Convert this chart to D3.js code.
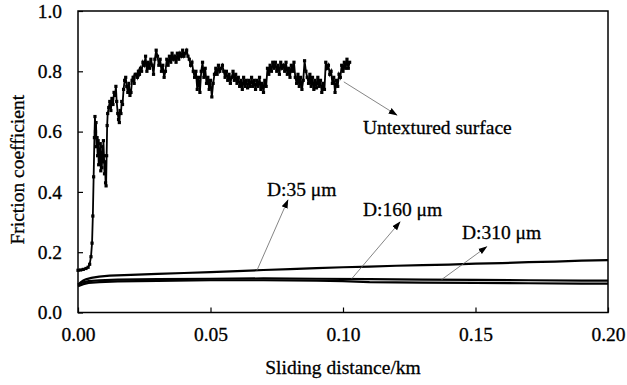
<!DOCTYPE html>
<html>
<head>
<meta charset="utf-8">
<script src="https://cdn.jsdelivr.net/npm/d3@7"></script>
<style>
  body { margin: 0; background: #fff; }
  svg { display: block; }
  svg text { font-family: "Liberation Serif", "Times New Roman", serif; fill: #000; stroke: #000; stroke-width: 0.3px; }
</style>
</head>
<body>
<svg id="chart" width="627" height="385"></svg>
<script>
// tick labels
var xTicks = [0, 0.05, 0.10, 0.15, 0.20];
var yTicks = [0, 0.2, 0.4, 0.6, 0.8, 1.0];

// friction coefficient vs sliding distance (km)
var untextured = [
  [0, .140], [.001, .141], [.002, .143], [.003, .146], [.0038, .150], [.0044, .160], [.0049, .185],
  [.0053, .23], [.0056, .32], [.0059, .45], [.0062, .58], [.0064, .65],
  [.0066, .60], [.0068, .63], [.007, .55], [.0072, .58], [.0074, .52], [.0076, .57], [.0078, .49],
  [.008, .54], [.0082, .50], [.0084, .56], [.0086, .47], [.0088, .53], [.009, .48], [.0092, .55],
  [.0094, .50], [.0096, .57], [.0098, .52], [.010, .46], [.0102, .50], [.0104, .43], [.0106, .42],
  [.0108, .52], [.011, .62], [.0112, .66],
  [.0116, .68], [.012, .70], [.0124, .67], [.0128, .71], [.0132, .69], [.0136, .73], [.014, .72],
  [.0143, .75], [.0146, .70], [.015, .66], [.0153, .64], [.0156, .63], [.0159, .67], [.0162, .66],
  [.0165, .70], [.0168, .69], [.0172, .74], [.0176, .77], [.018, .78], [.0184, .75], [.0188, .73],
  [.0192, .76], [.0196, .72], [.020, .73], [.0204, .77], [.0208, .78], [.0212, .76], [.0216, .79],
  [.022, .79], [.0224, .78], [.0228, .80], [.0232, .79], [.0236, .81], [.024, .80], [.0245, .83],
  [.025, .82], [.0255, .85], [.026, .80], [.0265, .83], [.027, .81], [.0275, .84], [.028, .82],
  [.0285, .79], [.029, .84], [.0295, .87], [.030, .85], [.0305, .82], [.031, .84], [.0315, .80],
  [.032, .82], [.0325, .78], [.033, .80], [.0335, .84], [.034, .82], [.0345, .85], [.035, .83],
  [.0355, .86], [.036, .84], [.0365, .85], [.037, .83], [.0375, .86], [.038, .84], [.0385, .86],
  [.039, .85], [.0395, .87], [.040, .85], [.0405, .86], [.041, .87], [.0415, .85], [.042, .84],
  [.0425, .82], [.043, .83], [.0435, .80], [.044, .78], [.0445, .80], [.045, .74], [.0455, .78],
  [.046, .73], [.0465, .80], [.047, .83], [.0475, .78], [.048, .81], [.0485, .76], [.049, .78],
  [.0495, .74], [.050, .77], [.0505, .715], [.051, .76], [.0515, .79], [.052, .81], [.0525, .79],
  [.053, .82], [.0535, .80], [.054, .81], [.0545, .82], [.055, .80], [.0555, .78], [.056, .80],
  [.0565, .77], [.057, .79], [.0575, .76], [.058, .78], [.0585, .80], [.059, .77], [.0595, .79],
  [.060, .76], [.0605, .78], [.061, .75], [.0615, .77], [.062, .74], [.0625, .78], [.063, .75],
  [.0635, .77], [.064, .745], [.0645, .77], [.065, .75], [.0655, .78], [.066, .75], [.0665, .77],
  [.067, .74], [.0675, .77], [.068, .75], [.0685, .78], [.069, .74], [.0695, .76], [.070, .73],
  [.0705, .77], [.071, .75], [.0715, .81], [.072, .79], [.0725, .82], [.073, .80], [.0735, .83],
  [.074, .81], [.0745, .83], [.075, .80], [.0755, .82], [.076, .79], [.0765, .83], [.077, .81],
  [.0775, .82], [.078, .80], [.0785, .83], [.079, .79], [.0795, .81], [.080, .78], [.0805, .82],
  [.081, .80], [.0815, .83], [.082, .78], [.0825, .76], [.083, .79], [.0835, .75], [.084, .78],
  [.0845, .74], [.085, .77], [.0855, .835], [.086, .80], [.0865, .78], [.087, .76], [.0875, .79],
  [.088, .75], [.0885, .78], [.089, .74], [.0895, .77], [.090, .745], [.0905, .78], [.091, .75],
  [.0915, .77], [.092, .73], [.0925, .76], [.093, .74], [.0935, .83], [.094, .81], [.0945, .82],
  [.095, .79], [.0955, .80], [.096, .76], [.0965, .78], [.097, .73], [.0975, .77], [.098, .75],
  [.0985, .79], [.099, .78], [.0995, .82], [.100, .80], [.1005, .83], [.101, .81], [.1015, .84],
  [.102, .81], [.1025, .83]
];

var d35 = [
  [0, .092], [.001, .100], [.002, .106], [.003, .110], [.005, .115], [.008, .119], [.012, .122],
  [.02, .125], [.03, .128], [.04, .131], [.05, .134], [.06, .137], [.07, .141], [.08, .144],
  [.09, .147], [.10, .150], [.11, .152], [.12, .155], [.13, .157], [.14, .159], [.15, .162],
  [.16, .164], [.17, .167], [.18, .169], [.19, .172], [.20, .174]
];

var d160 = [
  [0, .093], [.002, .100], [.004, .104], [.008, .107], [.015, .109], [.03, .111], [.05, .112],
  [.07, .113], [.09, .112], [.11, .111], [.13, .109], [.15, .108], [.17, .107], [.19, .106], [.20, .106]
];

var d310 = [
  [0, .087], [.002, .094], [.004, .098], [.008, .101], [.015, .103], [.03, .105], [.05, .107],
  [.07, .107], [.09, .106], [.10, .104], [.11, .101], [.13, .099], [.15, .098], [.17, .097],
  [.19, .096], [.20, .096]
];

// annotations: text anchor and arrow (from, to) in data units
var notes = [
  { label: "Untextured surface", at: [.1075, .592], from: [.1003, .765], to: [.1203, .655] },
  { label: "D:35 \u03bcm", at: [.0713, .386], from: [.0675, .139], to: [.0792, .373] },
  { label: "D:160 \u03bcm", at: [.1075, .320], from: [.1033, .112], to: [.1215, .300] },
  { label: "D:310 \u03bcm", at: [.1449, .244], from: [.1372, .109], to: [.1542, .218] }
];

var svg = d3.select("#chart");
var margin = { top: 11, right: 19, bottom: 72.5, left: 78 };
var width = 627 - margin.left - margin.right;
var height = 385 - margin.top - margin.bottom;
var fontSize = "19.5px";
var serif = "'Liberation Serif', 'Times New Roman', serif";

var g = svg.append("g")
  .attr("transform", "translate(" + margin.left + "," + margin.top + ")");

var x = d3.scaleLinear().domain([0, 0.2]).range([0, width]);
var y = d3.scaleLinear().domain([0, 1]).range([height, 0]);

var defs = svg.append("defs");
defs.append("marker")
  .attr("id", "head")
  .attr("viewBox", "0 0 10 10")
  .attr("refX", 9)
  .attr("refY", 5)
  .attr("markerWidth", 9)
  .attr("markerHeight", 9)
  .attr("markerUnits", "userSpaceOnUse")
  .attr("orient", "auto")
  .append("path")
  .attr("d", "M0,1.5 L10,5 L0,8.5 Z")
  .attr("fill", "#000");

// axes with inward ticks
var xAxis = g.append("g")
  .attr("transform", "translate(0," + height + ")")
  .call(d3.axisBottom(x).tickValues(xTicks).tickSize(-5).tickPadding(22).tickFormat(d3.format(".2f")));

var yAxis = g.append("g")
  .call(d3.axisLeft(y).tickValues(yTicks).tickSize(-5).tickPadding(16).tickFormat(d3.format(".1f")));

[xAxis, yAxis].forEach(function(a) {
  a.attr("font-family", serif).attr("font-size", fontSize);
  a.select(".domain").remove();
  a.selectAll("line").attr("stroke", "#000").attr("stroke-width", 1.2);
  a.selectAll("text").attr("fill", "#000");
});
xAxis.selectAll("text").attr("dy", "0.35em");

// frame
g.append("rect")
  .attr("width", width)
  .attr("height", height)
  .attr("fill", "none")
  .attr("stroke", "#000")
  .attr("stroke-width", 1.5);

var line = d3.line()
  .x(function(d) { return x(d[0]); })
  .y(function(d) { return y(d[1]); });

[d35, d160, d310].forEach(function(s) {
  g.append("path")
    .datum(s)
    .attr("d", line)
    .attr("fill", "none")
    .attr("stroke", "#000")
    .attr("stroke-width", 2.2);
});

g.append("path")
  .datum(untextured)
  .attr("d", line)
  .attr("fill", "none")
  .attr("stroke", "#000")
  .attr("stroke-width", 1.8);

g.selectAll(".pt")
  .data(untextured)
  .enter().append("rect")
  .attr("class", "pt")
  .attr("x", function(d) { return x(d[0]) - 1.6; })
  .attr("y", function(d) { return y(d[1]) - 1.6; })
  .attr("width", 3.2)
  .attr("height", 3.2)
  .attr("fill", "#000");

// annotations
notes.forEach(function(n) {
  g.append("line")
    .attr("x1", x(n.from[0]))
    .attr("y1", y(n.from[1]))
    .attr("x2", x(n.to[0]))
    .attr("y2", y(n.to[1]))
    .attr("stroke", "#666")
    .attr("stroke-width", 0.8)
    .attr("marker-end", "url(#head)");
  g.append("text")
    .attr("x", x(n.at[0]))
    .attr("y", y(n.at[1]))
    .attr("font-family", serif)
    .attr("font-size", fontSize)
    .text(n.label);
});

// axis titles
svg.append("text")
  .attr("x", margin.left + width / 2)
  .attr("y", 374)
  .attr("text-anchor", "middle")
  .attr("font-family", serif)
  .attr("font-size", fontSize)
  .text("Sliding distance/km");

svg.append("text")
  .attr("transform", "translate(24," + (margin.top + height / 2 + 8) + ") rotate(-90)")
  .attr("text-anchor", "middle")
  .attr("font-family", serif)
  .attr("font-size", fontSize)
  .text("Friction coefficient");
</script>
</body>
</html>
